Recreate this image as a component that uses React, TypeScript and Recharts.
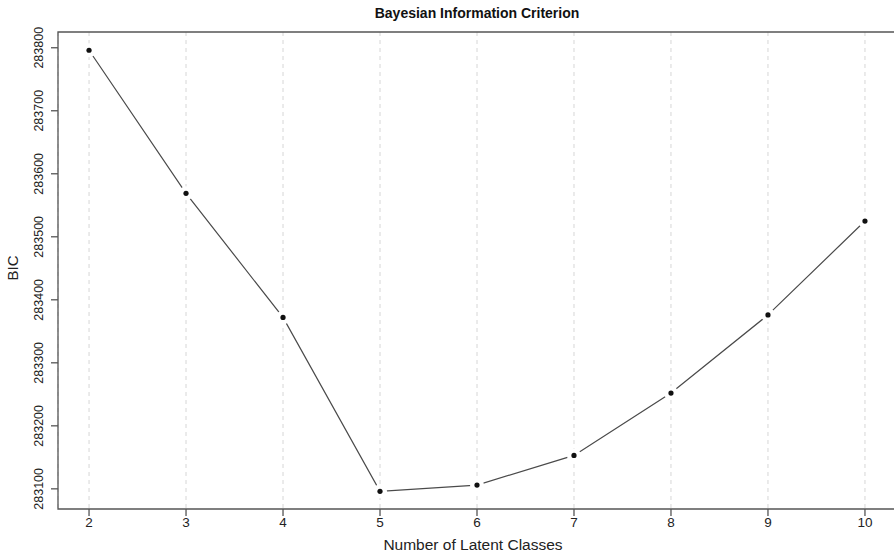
import { LineChart, Line, XAxis, YAxis, CartesianGrid, ReferenceArea } from 'recharts';

const classes = [2, 3, 4, 5, 6, 7, 8, 9, 10];
const bic = [283796, 283569, 283372, 283096, 283106, 283153, 283252, 283376, 283525];
const xTicks = [2, 3, 4, 5, 6, 7, 8, 9, 10];
const yTicks = [283100, 283200, 283300, 283400, 283500, 283600, 283700, 283800];

const data = classes.map((k, i) => ({ k, bic: bic[i] }));

const FONT = '"Liberation Sans", Arial, sans-serif';
const X_DOMAIN = [1.68, 10.32];
const Y_DOMAIN = [283068, 283825];

// R type="b": points with a small gap in the line around each one
function Dot(props: any) {
  const { cx, cy, index } = props;
  return (
    <g key={`dot-${index}`}>
      <circle cx={cx} cy={cy} r={7} fill="#fff" />
      <circle cx={cx} cy={cy} r={2.6} fill="#111" />
    </g>
  );
}

function YTick(props: any) {
  const { y, payload } = props;
  return (
    <text
      x={43}
      y={y}
      transform={`rotate(-90, 43, ${y})`}
      textAnchor="middle"
      fontSize={12.5}
      fill="#222"
      fontFamily={FONT}
    >
      {payload.value}
    </text>
  );
}

export default function App() {
  return (
    <div style={{ position: 'absolute', left: 0, top: 0, width: 894, height: 555, background: '#fff', fontFamily: FONT }}>
      <div
        style={{
          position: 'absolute',
          left: 58,
          width: 838,
          top: 5,
          textAlign: 'center',
          fontWeight: 'bold',
          fontSize: 14,
          color: '#111',
        }}
      >
        Bayesian Information Criterion
      </div>
      <LineChart width={894} height={555} data={data} margin={{ top: 32, right: -2, bottom: 6, left: 0 }}>
        <CartesianGrid horizontal={false} strokeDasharray="4 4" stroke="#d6d6d6" />
        <XAxis
          dataKey="k"
          type="number"
          domain={X_DOMAIN}
          ticks={xTicks}
          allowDataOverflow
          height={40}
          tickSize={7}
          tickLine={{ stroke: '#555', strokeWidth: 1.3 }}
          axisLine={false}
          tick={{ fill: '#222', fontSize: 13.5, fontFamily: FONT, dy: -1 }}
          label={{ value: 'Number of Latent Classes', position: 'insideBottom', offset: -1, fill: '#222', fontSize: 15.5, fontFamily: FONT, dx: -4 }}
        />
        <YAxis
          type="number"
          domain={Y_DOMAIN}
          ticks={yTicks}
          allowDataOverflow
          width={58}
          tickSize={7}
          tickLine={{ stroke: '#555', strokeWidth: 1.3 }}
          axisLine={false}
          tick={<YTick />}
          label={{ value: 'BIC', angle: -90, position: 'insideLeft', offset: 13, fill: '#222', fontSize: 15, fontFamily: FONT, dy: 10 }}
        />
        <ReferenceArea
          x1={X_DOMAIN[0]}
          x2={X_DOMAIN[1]}
          y1={Y_DOMAIN[0]}
          y2={Y_DOMAIN[1]}
          fill="none"
          fillOpacity={0}
          stroke="#555"
          strokeWidth={1.3}
        />
        <Line
          dataKey="bic"
          type="linear"
          stroke="#4a4a4a"
          strokeWidth={1.2}
          dot={Dot}
          activeDot={false}
          isAnimationActive={false}
        />
      </LineChart>
    </div>
  );
}
